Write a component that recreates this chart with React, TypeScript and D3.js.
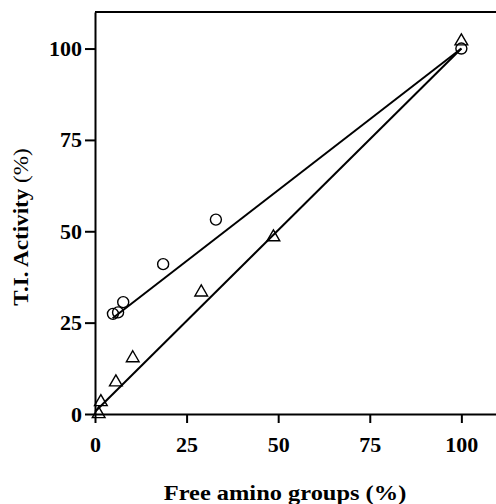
import { useEffect, useRef } from "react";
import * as d3 from "d3";

// series
const circleX = [4.9, 6.3, 7.7, 18.6, 33, 100];
const circleY = [27.4, 27.8, 30.6, 41, 53.2, 100];
const triangleX = [1, 1.6, 5.7, 10.3, 29, 48.7, 100];
const triangleY = [0, 3.3, 8.7, 15.3, 33.3, 48.4, 102];
// fitted lines (endpoints)
const circleFitX = [4.8, 100];
const circleFitY = [26.2, 100];
const triangleFitX = [0, 100];
const triangleFitY = [0.6, 100];

const tickValues = [0, 25, 50, 75, 100];

function App() {
    const svgRef = useRef<SVGSVGElement>(null);

    useEffect(() => {
        const Width = 496;
        const Height = 504;
        const Margin = { top: 12, right: -2, bottom: 90, left: 95 };

        const svg = d3.select(svgRef.current);
        svg.selectAll("*").remove();

        const xScale = d3
            .scaleLinear()
            .domain([0, 110])
            .range([Margin.left, Width - Margin.right]);
        const yScale = d3
            .scaleLinear()
            .domain([0, 110])
            .range([Height - Margin.bottom, Margin.top]);

        const font = "'Liberation Serif', 'Times New Roman', serif";

        // frame: top line
        svg.append("line")
            .attr("x1", xScale(0))
            .attr("x2", xScale(110))
            .attr("y1", yScale(110))
            .attr("y2", yScale(110))
            .attr("stroke", "#000")
            .attr("stroke-width", 2);

        // axes
        const xAxis = d3.axisBottom(xScale).tickValues(tickValues).tickSize(9).tickSizeOuter(0).tickPadding(13);
        svg.append("g")
            .attr("transform", `translate(0,${yScale(0)})`)
            .call(xAxis)
            .call((g) => g.select(".domain").attr("stroke-width", 2))
            .call((g) => g.selectAll(".tick line").attr("stroke-width", 2));

        const yAxis = d3.axisLeft(yScale).tickValues(tickValues).tickSize(10).tickSizeOuter(0).tickPadding(3);
        svg.append("g")
            .attr("transform", `translate(${xScale(0)},0)`)
            .call(yAxis)
            .call((g) => g.select(".domain").attr("stroke-width", 2))
            .call((g) => g.selectAll(".tick line").attr("stroke-width", 2));

        svg.selectAll(".tick text")
            .attr("font-family", font)
            .attr("font-size", 22)
            .attr("font-weight", "bold")
            .attr("fill", "#000");

        // titles (the scan is a little wider than Times, hence the scaleX)
        svg.append("text")
            .attr("transform", "translate(285,500) scale(1.11,1)")
            .attr("text-anchor", "middle")
            .attr("font-family", font)
            .attr("font-size", 22)
            .attr("font-weight", "bold")
            .text("Free amino groups (%)");

        const yTitle = svg.append("text")
            .attr("transform", "translate(28,227) rotate(-90) scale(1.05,1)")
            .attr("text-anchor", "middle")
            .attr("font-family", font)
            .attr("font-size", 22)
            .attr("font-weight", "bold");
        yTitle.append("tspan").text("T.I. Activity ");
        yTitle.append("tspan").attr("font-weight", "normal").text("(%)");

        // fitted lines
        const myLine = d3
            .line<[number, number]>()
            .x((d) => xScale(d[0]))
            .y((d) => yScale(d[1]));

        const fits: [number, number][][] = [
            circleFitX.map((x, i) => [x, circleFitY[i]]),
            triangleFitX.map((x, i) => [x, triangleFitY[i]]),
        ];
        svg.selectAll(".fit")
            .data(fits)
            .join("path")
            .attr("class", "fit")
            .attr("d", myLine)
            .attr("fill", "none")
            .attr("stroke", "#000")
            .attr("stroke-width", 2);

        // circles
        svg.selectAll(".circ")
            .data(circleX.map((x, i) => [x, circleY[i]]))
            .join("circle")
            .attr("class", "circ")
            .attr("cx", (d) => xScale(d[0]))
            .attr("cy", (d) => yScale(d[1]))
            .attr("r", 5.5)
            .attr("fill", "none")
            .attr("stroke", "#000")
            .attr("stroke-width", 1.4);

        // triangles
        const tri = d3.symbol().type(d3.symbolTriangle).size(70);
        svg.selectAll(".tri")
            .data(triangleX.map((x, i) => [x, triangleY[i]]))
            .join("path")
            .attr("class", "tri")
            .attr("transform", (d) => `translate(${xScale(d[0])},${yScale(d[1])})`)
            .attr("d", tri)
            .attr("fill", "none")
            .attr("stroke", "#000")
            .attr("stroke-width", 1.4);
    }, []);

    return (
        <svg
            ref={svgRef}
            width={496}
            height={504}
            style={{ position: "absolute", left: 0, top: 0, background: "#fff" }}
        ></svg>
    );
}

export default App;
